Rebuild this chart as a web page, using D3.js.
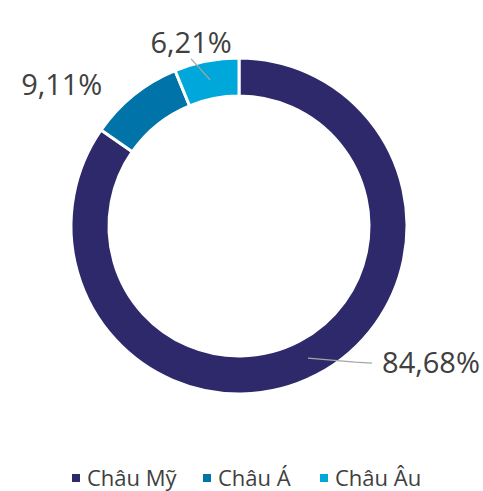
<!DOCTYPE html>
<html>
<head>
<meta charset="utf-8">
<script src="https://cdn.jsdelivr.net/npm/d3@7"></script>
<style>
    body { margin: 0; background: #fff; }
    text { font-family: "Open Sans", sans-serif; fill: #404040; }
</style>
</head>
<body>
<svg id="chart" width="483" height="491"></svg>
<script>
var regions = ["Châu Mỹ", "Châu Á", "Châu Âu"];
var shares = [84.68, 9.11, 6.21];
var colors = ["#2e296b", "#0073a9", "#00a7da"];

// label placement relative to slice (offset from centroid), and whether a leader is drawn
var labelOffset = [[123, 5], [-84, -25], [-19, -37]];
var hasLeader = [true, false, true];

var svg = d3.select("#chart")
    , cx = 239
    , cy = 226
    , outerR = 168
    , innerR = 130
    , g = svg.append("g").attr("transform", "translate(" + cx + "," + cy + ")")
    ;

var pie = d3.pie().sort(null).value(function(d) { return d; });
var arcs = pie(shares);

var arc = d3.arc().innerRadius(innerR).outerRadius(outerR);
var mid = d3.arc().innerRadius((innerR + outerR) / 2).outerRadius((innerR + outerR) / 2);

g.selectAll("path.slice")
    .data(arcs)
    .enter().append("path")
    .attr("class", "slice")
    .attr("d", arc)
    .attr("fill", function(d, i) { return colors[i]; })
    .attr("stroke", "#fff")
    .attr("stroke-width", 3);

var fmt = function(v) { return v.toFixed(2).replace(".", ",") + "%"; };

arcs.forEach(function(d, i) {
    var c = mid.centroid(d)
        , lx = c[0] + labelOffset[i][0]
        , ly = c[1] + labelOffset[i][1]
        ;
    if (hasLeader[i]) {
        var end;
        if (i === 0) end = [lx - 59, ly];
        else end = [lx, ly + 16];
        g.append("polyline")
            .attr("points", [c, i === 0 ? [lx - 76, ly - 1] : c, end].map(function(p) { return p.join(","); }).join(" "))
            .attr("fill", "none")
            .attr("stroke", "#a6a6a6")
            .attr("stroke-width", 1.3);
    }
    g.append("text")
        .attr("x", lx)
        .attr("y", ly)
        .attr("dy", "0.35em")
        .attr("text-anchor", "middle")
        .style("font-size", "29px")
        .text(fmt(shares[i]));
});

// legend
var legendX = [72, 203, 320];
var legend = svg.append("g").attr("transform", "translate(0,478)");
regions.forEach(function(name, i) {
    legend.append("rect")
        .attr("x", legendX[i])
        .attr("y", -4)
        .attr("width", 8)
        .attr("height", 8)
        .attr("fill", colors[i]);
    legend.append("text")
        .attr("x", legendX[i] + 15)
        .attr("y", 0)
        .attr("dy", "0.35em")
        .style("font-size", "22px")
        .text(name);
});
</script>
</body>
</html>
